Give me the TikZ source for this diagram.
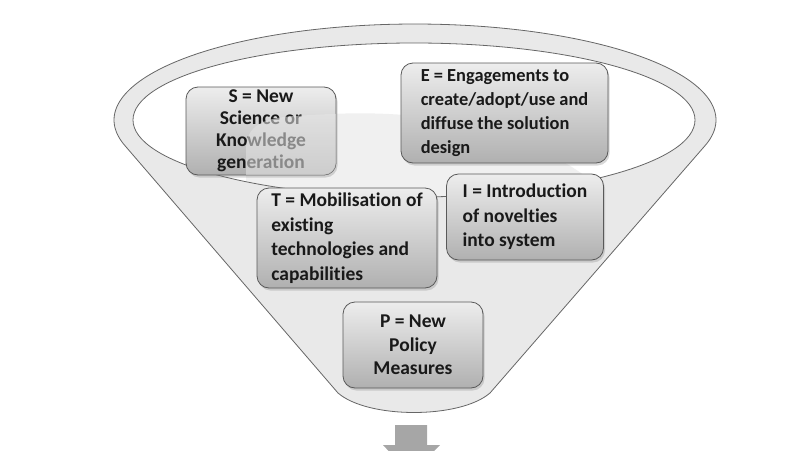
\documentclass[tikz,border=0pt]{standalone}
\usepackage{fontspec}
\setmainfont{Carlito}[Ligatures=NoCommon]
\usetikzlibrary{shadows}
\begin{document}
\begin{tikzpicture}[x=1pt,y=-1pt,
  box/.style={draw=black!65, line width=0.8pt, rounded corners=12pt,
    top color=gray!14, bottom color=gray!62,
    drop shadow={opacity=0.3, shadow xshift=1.5pt, shadow yshift=-2.5pt},
    font=\bfseries\fontsize{19.5}{24.5}\selectfont, text=black!90,
    inner sep=0pt},
  funnelline/.style={draw=black!60, line width=0.8pt}]
\useasboundingbox (0,0) rectangle (800,450);
\clip (0,0) rectangle (800,450);
\def\hlpath{(246,205) -- (246,148) .. controls (247,126) and (262,118) .. (295,116) .. controls (360,112) and (520,98) .. (630,215) -- (630,240) -- (246,240) -- cycle}
% funnel body
\path[funnelline, fill=gray!17] plot[domain=164.6:375.5, samples=150] ({415+301*cos(\x)},{120+96*sin(\x)})
  -- (490,393) .. controls (460,419) and (368,419) .. (338,393) -- cycle;
% inner ellipse
\fill[white] (414,120) ellipse [x radius=281pt, y radius=77pt];
\begin{scope}
  \clip (414,120) ellipse [x radius=281pt, y radius=77pt];
  \fill[gray!20, opacity=0.55] \hlpath;
\end{scope}
\draw[funnelline] (414,120) ellipse [x radius=281pt, y radius=77pt];
% boxes
\node[box, minimum width=150pt, minimum height=88pt, align=center,
  font=\bfseries\fontsize{19.5}{22}\selectfont] (S) at (261,131)
  {S = New\\Science or\\Knowledge\\generation};
\begin{scope}
  \clip[rounded corners=12pt] (186,87) rectangle (336,175);
  \fill[gray!20, opacity=0.55] \hlpath;
\end{scope}
\node[box, minimum width=207pt, minimum height=100pt, align=left,
  font=\bfseries\fontsize{18.4}{24}\selectfont] (E) at (504.5,113)
  {E = Engagements to\\create/adopt/use and\\diffuse the solution\\design};
\node[box, minimum width=180pt, minimum height=100pt, align=left] (T) at (347,238)
  {T = Mobilisation of\\existing\\technologies and\\capabilities};
\node[box, minimum width=157pt, minimum height=86pt, align=left] (I) at (525,217)
  {I = Introduction\\of novelties\\into system};
\node[box, minimum width=140pt, minimum height=86pt, align=center,
  font=\bfseries\fontsize{19.5}{23.5}\selectfont] (P) at (413,345)
  {P = New\\Policy\\Measures};
% output arrow
\fill[black!35] (395,425) -- (427,425) -- (427,445) -- (440,445) -- (411,475)
  -- (383,445) -- (395,445) -- cycle;
\end{tikzpicture}
\end{document}
